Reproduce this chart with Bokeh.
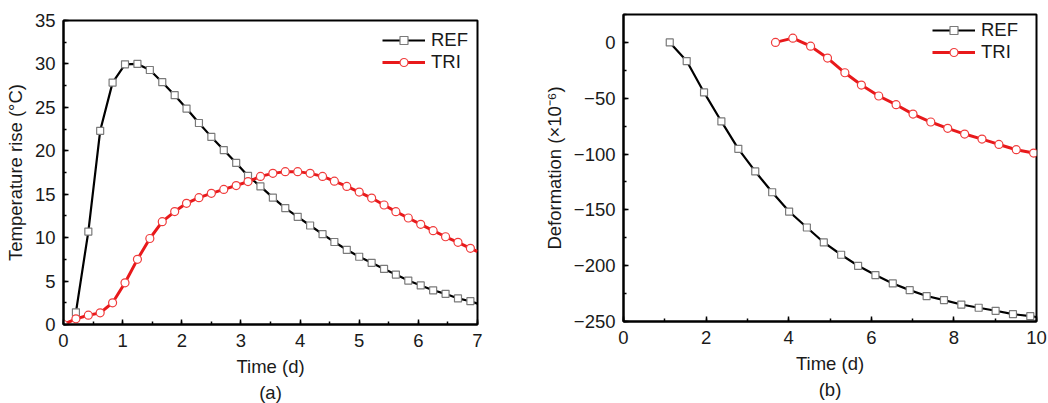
from bokeh.plotting import figure
from bokeh.layouts import row
from bokeh.models import Range1d, SingleIntervalTicker, Title, CustomJSTickFormatter
from bokeh.embed import file_html
from bokeh.resources import INLINE

# ---- panel (a): temperature rise ----
a_ref_t = [0.21, 0.42, 0.62, 0.83, 1.04, 1.25, 1.46, 1.67, 1.88, 2.08, 2.29, 2.50, 2.71,
           2.92, 3.12, 3.33, 3.54, 3.75, 3.96, 4.17, 4.38, 4.58, 4.79, 5.00, 5.21, 5.42,
           5.62, 5.83, 6.04, 6.25, 6.46, 6.67, 6.88]
a_ref_v = [1.4, 10.7, 22.3, 27.85, 29.95, 30.0, 29.3, 27.9, 26.4, 24.86, 23.2, 21.6, 20.08,
           18.6, 17.1, 15.9, 14.6, 13.4, 12.4, 11.4, 10.4, 9.5, 8.6, 7.8, 7.1, 6.4,
           5.75, 5.06, 4.5, 3.94, 3.53, 3.0, 2.68]
a_ref_end = (7.0, 2.4)

a_tri_t = [0.0, 0.21, 0.42, 0.62, 0.83, 1.04, 1.25, 1.46, 1.67, 1.88, 2.08, 2.29, 2.50, 2.71,
           2.92, 3.12, 3.33, 3.54, 3.75, 3.96, 4.17, 4.38, 4.58, 4.79, 5.00, 5.21, 5.42,
           5.62, 5.83, 6.04, 6.25, 6.46, 6.67, 6.88]
a_tri_v = [0.0, 0.65, 1.07, 1.34, 2.5, 4.8, 7.5, 9.9, 11.84, 13.0, 13.95, 14.6, 15.1, 15.55,
           16.0, 16.45, 17.05, 17.4, 17.6, 17.6, 17.4, 17.05, 16.5, 15.9, 15.25, 14.56, 13.76,
           12.99, 12.26, 11.53, 10.8, 10.1, 9.46, 8.77]
a_tri_end = (7.0, 8.4)

# ---- panel (b): deformation ----
b_ref_t = [1.12, 1.53, 1.95, 2.37, 2.78, 3.19, 3.60, 4.01, 4.44, 4.85, 5.27, 5.68, 6.10,
           6.52, 6.93, 7.34, 7.76, 8.18, 8.60, 9.01, 9.43, 9.85]
b_ref_v = [0.0, -16.7, -44.8, -70.8, -95.3, -115.6, -134.2, -151.5, -165.8, -179.2, -190.2,
           -200.1, -208.4, -215.9, -221.9, -227.2, -230.8, -234.8, -237.7, -240.4, -243.4, -245.2]
b_ref_end = (10.0, -246.0)

b_tri_t = [3.68, 4.10, 4.53, 4.94, 5.36, 5.76, 6.18, 6.60, 7.01, 7.44, 7.85, 8.26, 8.68,
           9.09, 9.51, 9.93]
b_tri_v = [0.0, 3.8, -3.4, -14.0, -27.2, -38.2, -48.0, -55.8, -64.2, -71.3, -77.0, -82.1,
           -86.6, -91.4, -96.1, -99.1]

FONT = "Liberation Sans"
FS = "18.5px"
TXT = "#1a1a1a"
BLACK = "#000000"
RED = "#e8191b"
SQ_EDGE = "#7a7a7a"
CI_EDGE = "#f03c3c"

minus_fmt = CustomJSTickFormatter(code="return tick < 0 ? '\u2212' + Math.abs(tick) : String(tick);")


def style(p, xi, yi, xlabel, ylabel, panel, yfmt=False):
    p.xgrid.visible = False
    p.ygrid.visible = False
    p.outline_line_color = BLACK
    p.outline_line_width = 2
    p.outline_line_alpha = 1
    p.xaxis.ticker = SingleIntervalTicker(interval=xi, num_minor_ticks=2)
    p.yaxis.ticker = SingleIntervalTicker(interval=yi, num_minor_ticks=2)
    if yfmt:
        p.yaxis.formatter = minus_fmt
    for ax in (p.xaxis, p.yaxis):
        ax.axis_line_width = 2
        ax.axis_line_color = BLACK
        ax.major_tick_in = 5
        ax.major_tick_out = 0
        ax.minor_tick_in = 3
        ax.minor_tick_out = 0
        ax.major_tick_line_width = 1.5
        ax.minor_tick_line_width = 1.5
        ax.major_tick_line_color = BLACK
        ax.minor_tick_line_color = BLACK
        ax.major_label_text_font = FONT
        ax.major_label_text_font_size = FS
        ax.major_label_text_color = TXT
        ax.axis_label_text_font = FONT
        ax.axis_label_text_font_size = FS
        ax.axis_label_text_font_style = "normal"
        ax.axis_label_text_color = TXT
    p.xaxis.axis_label = xlabel
    p.yaxis.axis_label = ylabel
    p.xaxis.major_label_standoff = 9
    p.xaxis.axis_label_standoff = 6
    p.yaxis.major_label_standoff = 8
    p.yaxis.axis_label_standoff = 6
    t = Title(text=panel, align="center", text_font=FONT, text_font_size=FS,
              text_font_style="normal", text_color=TXT, standoff=0)
    p.add_layout(t, "below")


def legend_style(p):
    lg = p.legend[0]
    lg.margin = 5
    lg.padding = 4
    lg.spacing = 0
    lg.glyph_width = 43
    lg.glyph_height = 20
    lg.label_standoff = 6
    lg.label_text_font = FONT
    lg.label_text_font_size = FS
    lg.label_text_color = TXT
    lg.background_fill_alpha = 0
    lg.border_line_alpha = 0


# ---- figure (a) ----
pa = figure(width=540, height=403, output_backend="svg", toolbar_location=None,
            x_range=Range1d(0, 7), y_range=Range1d(0, 35),
            min_border_left=63, min_border_right=63, min_border_top=20, min_border_bottom=79)
pa.line(a_ref_t + [a_ref_end[0]], a_ref_v + [a_ref_end[1]], line_color=BLACK, line_width=2.2,
        legend_label="REF")
pa.scatter(a_ref_t, a_ref_v, marker="square", size=7, fill_color="white",
           line_color=SQ_EDGE, line_width=1.2, legend_label="REF")
pa.line(a_tri_t + [a_tri_end[0]], a_tri_v + [a_tri_end[1]], line_color=RED, line_width=3,
        legend_label="TRI")
pa.scatter(a_tri_t, a_tri_v, marker="circle", size=8, fill_color="white",
           line_color=CI_EDGE, line_width=1.2, legend_label="TRI")
style(pa, 1, 5, "Time (d)", "Temperature rise (°C)", "(a)")
legend_style(pa)
pa.legend[0].location = "top_right"

# ---- figure (b) ----
pb = figure(width=508, height=406, output_backend="svg", toolbar_location=None,
            x_range=Range1d(0, 10), y_range=Range1d(-250, 25),
            min_border_left=81, min_border_right=12, min_border_top=20, min_border_bottom=79)
pb.margin = (-6, 0, 0, 0)
pb.line(b_ref_t + [b_ref_end[0]], b_ref_v + [b_ref_end[1]], line_color=BLACK, line_width=2.2,
        legend_label="REF")
pb.scatter(b_ref_t, b_ref_v, marker="square", size=7, fill_color="white",
           line_color=SQ_EDGE, line_width=1.2, legend_label="REF")
pb.line(b_tri_t, b_tri_v, line_color=RED, line_width=3, legend_label="TRI")
pb.scatter(b_tri_t, b_tri_v, marker="circle", size=8, fill_color="white",
           line_color=CI_EDGE, line_width=1.2, legend_label="TRI")
style(pb, 2, 50, "Time (d)", "Deformation (×10⁻⁶)", "(b)", yfmt=True)
legend_style(pb)
pb.legend[0].location = (305, 254)

layout = row(pa, pb)
open("out.html", "w").write(file_html(layout, INLINE))
